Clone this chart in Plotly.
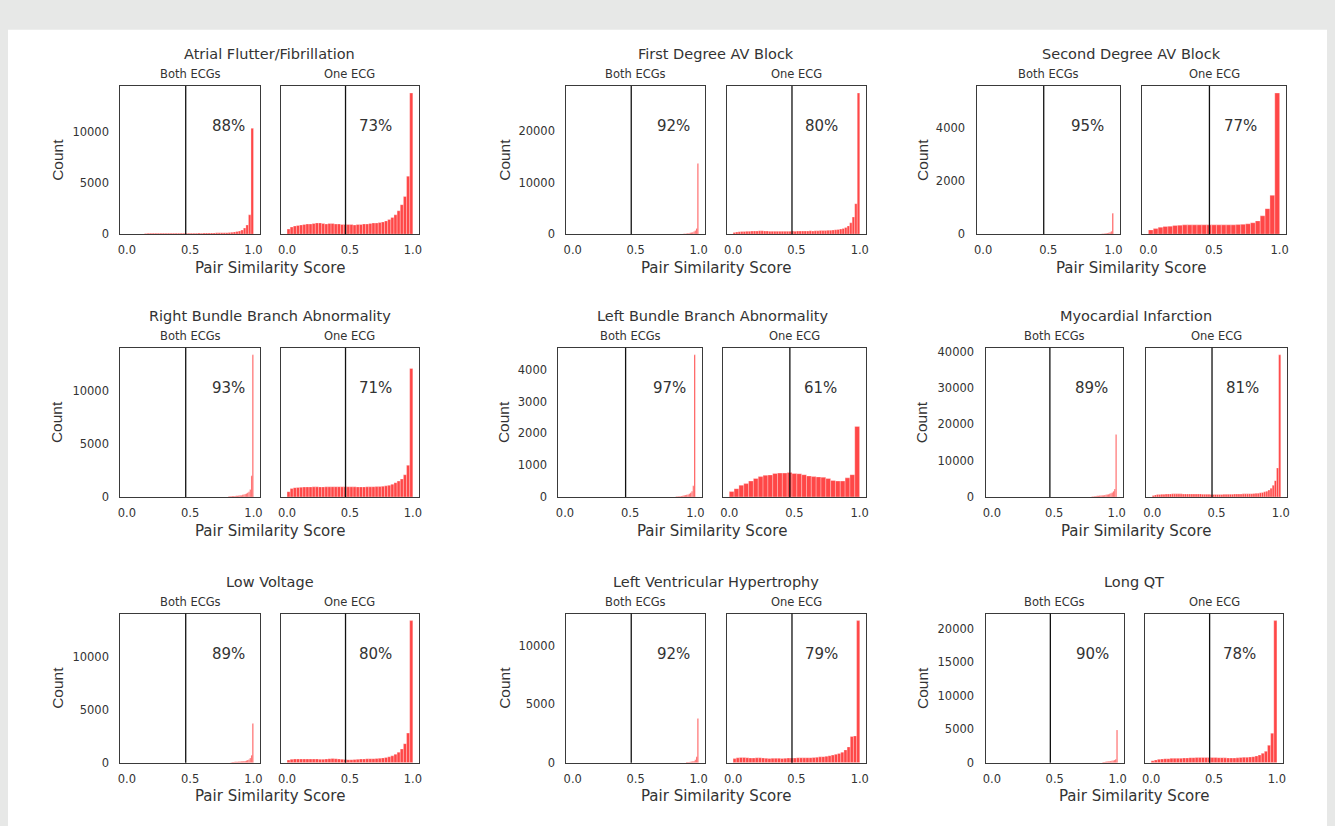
import numpy as np
import plotly.graph_objects as go

# ---------------- DATA ----------------
titles = ["Atrial Flutter/Fibrillation", "First Degree AV Block", "Second Degree AV Block",
          "Right Bundle Branch Abnormality", "Left Bundle Branch Abnormality", "Myocardial Infarction",
          "Low Voltage", "Left Ventricular Hypertrophy", "Long QT"]
panel_names = ["Both ECGs", "One ECG"]
both_pct = ["88%", "92%", "95%", "93%", "97%", "89%", "89%", "92%", "90%"]
one_pct = ["73%", "80%", "77%", "71%", "61%", "81%", "80%", "79%", "78%"]
y_ticks = [[0, 5000, 10000], [0, 10000, 20000], [0, 2000, 4000],
           [0, 5000, 10000], [0, 1000, 2000, 3000, 4000], [0, 10000, 20000, 30000, 40000],
           [0, 5000, 10000], [0, 5000, 10000], [0, 5000, 10000, 15000, 20000]]
x_ticks = [0.0, 0.5, 1.0]
x_tick_text = ["0.0", "0.5", "1.0"]
threshold = 0.465
x_label = "Pair Similarity Score"
y_label = "Count"

# histogram bins: (first bin edge, bin width)
afib_both_bins = (0.14, 0.02)
afib_both = [60, 80, 90, 100, 100, 90, 100, 100, 90, 100, 90, 90, 100, 100, 100, 90, 90, 100, 100, 100,
             100, 110, 100, 110, 110, 110, 120, 120, 130, 130, 140, 140, 150,
             170, 190, 220, 260, 300, 400, 600, 900, 1900, 10400]
afib_one_bins = (0.0, 0.025)
afib_one = [500, 700, 800, 850, 900, 950, 1000, 1000, 1050, 1100,
            1100, 1050, 1000, 1050, 1050, 1000, 1000, 950, 950, 950,
            950, 900, 950, 950, 1000, 1000, 1050, 1100, 1100, 1150,
            1200, 1300, 1450, 1650, 1900, 2300, 2900, 3700, 5700, 13870]

avb1_both_bins = (0.88, 0.01)
avb1_both = [60, 90, 120, 160, 200, 250, 300, 380, 500, 700, 1100, 13650]
avb1_one_bins = (0.0, 0.02)
avb1_one = [300, 400, 450, 500, 500, 550, 550, 600, 600, 600,
            650, 650, 600, 600, 550, 550, 550, 550, 550, 550,
            550, 550, 550, 600, 550, 600, 600, 600, 600, 600,
            650, 600, 650, 650, 700, 700, 700, 750, 750, 800,
            850, 900, 1000, 1100, 1300, 1600, 2200, 3300, 5900, 27300]

avb2_both_bins = (0.90, 0.01)
avb2_both = [10, 15, 20, 25, 30, 40, 50, 70, 110, 785]
avb2_one_bins = (0.0, 1 / 27)
avb2_one = [160, 210, 260, 290, 300, 330, 340, 350, 350, 350, 350, 350, 350, 350,
            350, 350, 350, 350, 360, 370, 390, 430, 500, 690, 960, 1460, 5310]

rbbb_both_bins = (0.80, 0.01)
rbbb_both = [50, 60, 70, 80, 90, 100, 110, 120, 130, 150, 170, 200, 230, 270, 320, 400, 500, 700, 2000, 13460]
rbbb_one_bins = (0.0, 0.025)
rbbb_one = [500, 800, 880, 900, 920, 940, 950, 950, 960, 960,
            950, 950, 960, 960, 970, 970, 970, 960, 960, 960,
            960, 960, 950, 950, 950, 960, 960, 970, 980, 1000,
            1020, 1050, 1100, 1200, 1350, 1500, 1700, 2100, 3000, 12170]

lbbb_both_bins = (0.85, 0.01)
lbbb_both = [10, 15, 20, 25, 30, 40, 50, 60, 70, 80, 100, 130, 180, 350, 4470]
lbbb_one_bins = (0.0, 1 / 27)
lbbb_one = [170, 260, 370, 420, 500, 580, 640, 680, 690, 740, 750, 750, 770, 740,
            730, 700, 660, 640, 630, 620, 580, 520, 500, 500, 600, 700, 2220]

mi_both_bins = (0.80, 0.01)
mi_both = [100, 150, 200, 250, 300, 350, 380, 420, 460, 500, 550, 600, 650, 750, 850, 1000, 1200, 1600, 2200, 17260]
mi_one_bins = (0.0, 1 / 60)
mi_one = [400, 550, 650, 700, 750, 750, 800, 800, 800, 850,
          850, 850, 850, 850, 800, 800, 800, 800, 800, 800,
          800, 800, 800, 750, 750, 750, 750, 700, 700, 700,
          700, 700, 700, 750, 750, 750, 750, 750, 800, 800,
          800, 800, 850, 850, 850, 900, 900, 950, 1000, 1050,
          1150, 1250, 1400, 1600, 1900, 2400, 3200, 4500, 8000, 39200]

lv_both_bins = (0.82, 0.01)
lv_both = [50, 60, 70, 80, 90, 100, 110, 120, 130, 140, 150, 170, 200, 250, 300, 450, 700, 3700]
lv_one_bins = (0.0, 0.025)
lv_one = [250, 330, 350, 350, 350, 350, 350, 350, 350, 350,
          330, 330, 350, 380, 400, 380, 350, 330, 300, 280,
          280, 300, 320, 350, 350, 370, 380, 380, 400, 420,
          450, 500, 560, 650, 800, 1000, 1300, 1800, 2800, 13450]

lvh_both_bins = (0.90, 0.01)
lvh_both = [50, 60, 70, 80, 100, 120, 150, 250, 500, 3800]
lvh_one_bins = (0.0, 0.025)
lvh_one = [350, 420, 450, 450, 430, 400, 400, 420, 420, 400,
           380, 370, 380, 380, 380, 370, 380, 400, 400, 400,
           420, 420, 420, 430, 430, 450, 470, 500, 520, 550,
           600, 650, 720, 800, 900, 1100, 1350, 2250, 2300, 12200]

lqt_both_bins = (0.88, 0.01)
lqt_both = [100, 120, 150, 180, 200, 220, 250, 280, 330, 400, 500, 4870]
lqt_one_bins = (0.0, 0.025)
lqt_one = [300, 400, 500, 550, 600, 600, 650, 650, 650, 650,
           700, 700, 750, 750, 780, 780, 780, 780, 780, 780,
           780, 750, 750, 720, 700, 700, 700, 720, 780, 820,
           800, 850, 900, 1000, 1150, 1400, 1700, 2600, 4400, 21200]

hists = [
    ((afib_both_bins, afib_both), (afib_one_bins, afib_one)),
    ((avb1_both_bins, avb1_both), (avb1_one_bins, avb1_one)),
    ((avb2_both_bins, avb2_both), (avb2_one_bins, avb2_one)),
    ((rbbb_both_bins, rbbb_both), (rbbb_one_bins, rbbb_one)),
    ((lbbb_both_bins, lbbb_both), (lbbb_one_bins, lbbb_one)),
    ((mi_both_bins, mi_both), (mi_one_bins, mi_one)),
    ((lv_both_bins, lv_both), (lv_one_bins, lv_one)),
    ((lvh_both_bins, lvh_both), (lvh_one_bins, lvh_one)),
    ((lqt_both_bins, lqt_both), (lqt_one_bins, lqt_one)),
]

# ---------------- LAYOUT (pixels) ----------------
W, H = 1335, 826
pair_x = [(118, 258, 279, 418), (566, 705, 727, 867), (978, 1122, 1144, 1289),
          (118, 258, 279, 418), (558, 702, 723, 867), (987, 1125, 1148, 1290),
          (118, 258, 279, 418), (566, 705, 727, 867), (987, 1126, 1147, 1286)]
row_y = [(84, 234), (349, 500), (618, 769)]
count_x = [54, 503, 923]

WIDE = "DejaVu Sans, Verdana, sans-serif"
ARIAL = "Liberation Sans, Arial, sans-serif"
TXT = "#333333"
SPINE = "#3a3a3a"
BAR = "rgba(255,0,0,0.72)"


def px(x):
    return x / W


def py(y):
    return 1 - y / H


fig = go.Figure()
layout = dict(
    width=W, height=H, margin=dict(l=0, r=0, t=0, b=0),
    paper_bgcolor="#e7e8e7", plot_bgcolor="white", showlegend=False,
    barmode="overlay", font=dict(family=WIDE, color=TXT),
)
shapes = [dict(type="rect", xref="paper", yref="paper", x0=px(5), x1=px(1330), y0=-0.05, y1=py(27),
               fillcolor="white", line=dict(width=0), layer="below")]
annotations = []


def label(text, x, y, size, angle=0, family=WIDE):
    return dict(text=text, xref="paper", yref="paper", x=px(x), y=py(y), xanchor="center",
                yanchor="middle", textangle=angle, showarrow=False,
                font=dict(size=size, color=TXT, family=family))


for k in range(9):
    r, c = divmod(k, 3)
    top, bot = row_y[r]
    bl, br, ol, orr = pair_x[k]
    (b_bins, b_vals), (o_bins, o_vals) = hists[k]
    ymax = 1.05 * max(max(b_vals), max(o_vals))
    for j, ((start, width), vals, (l, rr)) in enumerate(
            [(b_bins, b_vals, (bl, br)), (o_bins, o_vals, (ol, orr))]):
        n = 2 * k + j + 1
        sfx = "" if n == 1 else str(n)
        xs = start + width * (np.arange(len(vals)) + 0.5)
        fig.add_trace(go.Bar(x=xs, y=vals, width=width, xaxis=f"x{sfx}", yaxis=f"y{sfx}",
                             marker=dict(color=BAR, line=dict(color="white", width=0.3)),
                             hoverinfo="skip"))
        layout[f"xaxis{sfx}"] = dict(
            domain=[px(l), px(rr)], anchor=f"y{sfx}", range=[-0.05, 1.05],
            tickvals=x_ticks, ticktext=x_tick_text, ticks="", showgrid=False, zeroline=False,
            showline=True, mirror=True, linecolor=SPINE, linewidth=1.3,
            tickfont=dict(size=11.5, color=TXT, family=WIDE), ticklabelstandoff=5)
        layout[f"yaxis{sfx}"] = dict(
            domain=[py(bot), py(top)], anchor=f"x{sfx}", range=[0, ymax],
            tickvals=y_ticks[k], ticktext=[str(v) for v in y_ticks[k]], ticks="",
            showgrid=False, zeroline=False,
            showline=True, mirror=True, linecolor=SPINE, linewidth=1.3,
            tickfont=dict(size=11.5, color=TXT, family=WIDE), ticklabelstandoff=8,
            showticklabels=(j == 0))
        shapes.append(dict(type="line", xref=f"x{sfx}", yref=f"y{sfx} domain", x0=threshold, x1=threshold,
                           y0=0, y1=1, line=dict(color="#111111", width=1.3)))
        annotations.append(dict(text=(both_pct if j == 0 else one_pct)[k], xref=f"x{sfx}",
                                yref=f"y{sfx} domain", x=(0.8 if j == 0 else 0.7), y=0.73,
                                xanchor="center", yanchor="middle",
                                showarrow=False, font=dict(size=15, color=TXT, family=WIDE)))
        annotations.append(label(panel_names[j], (l + rr) / 2, top - 12, 11.5))
    annotations.append(label(titles[k], (bl + orr) / 2, top - 32, 14.5))
    annotations.append(label(x_label, (bl + orr) / 2, bot + 34, 15))
    annotations.append(label(y_label, count_x[c], (top + bot) / 2, 15.5, -90, ARIAL))

layout["shapes"] = shapes
layout["annotations"] = annotations
fig.update_layout(**layout)
fig.write_html("out.html")
